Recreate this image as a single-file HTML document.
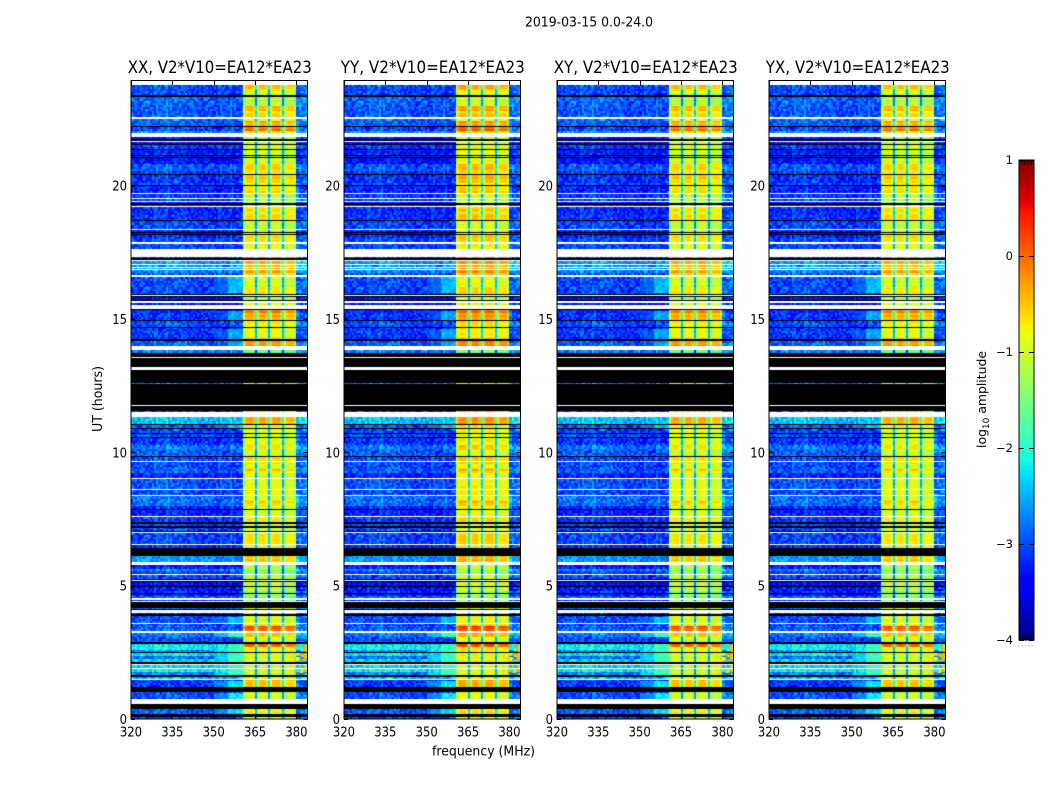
<!DOCTYPE html>
<html lang="en">
<head>
<meta charset="utf-8">
<title>2019-03-15 0.0-24.0</title>
<style>
html,body{margin:0;padding:0;background:#fff;}
#figure{position:relative;width:1050px;height:800px;overflow:hidden;background:#fff;}
canvas{position:absolute;display:block;}
#overlay{position:absolute;left:0;top:0;}
text{font-family:"DejaVu Sans","Liberation Sans",sans-serif;fill:#000;}
</style>
</head>
<body>
<div id="figure">
<svg id="overlay" width="1050" height="800" viewBox="0 0 1050 800" xmlns="http://www.w3.org/2000/svg">
  <text x="589" y="26.5" font-size="13.7" text-anchor="middle" textLength="128" lengthAdjust="spacingAndGlyphs">2019-03-15 0.0-24.0</text>
  <text x="483.5" y="755.5" font-size="13.7" text-anchor="middle" textLength="103" lengthAdjust="spacingAndGlyphs">frequency (MHz)</text>
  <text x="102" y="399" font-size="13.7" text-anchor="middle" textLength="66" lengthAdjust="spacingAndGlyphs" transform="rotate(-90 102 399)">UT (hours)</text>
  <text x="986" y="399.5" font-size="12.4" text-anchor="middle" transform="rotate(-90 986 399.5)">log<tspan font-size="9" dy="3">10</tspan><tspan dy="-3"> amplitude</tspan></text>
</svg>
</div>
<script>
// ---------- chart data ----------
const panelTitles = ["XX, V2*V10=EA12*EA23", "YY, V2*V10=EA12*EA23", "XY, V2*V10=EA12*EA23", "YX, V2*V10=EA12*EA23"];
const panelPassOffset = [0, 0.12, -0.02, -0.03];
const panelBackgroundOffset = [-0.1, -0.12, -0.12, -0.12];
const freqTicks = [320, 335, 350, 365, 380];
const hourTicks = [0, 5, 10, 15, 20];
const colorbarTicks = [1, 0, -1, -2, -3, -4];
const colorbarLabels = ["1", "0", "\u22121", "\u22122", "\u22123", "\u22124"];
const W = null;   // flagged white row
const K = -9;     // flagged black row

// Each band runs from bandTopHour[i] down to bandTopHour[i+1].
const bandTopHour = [
23.93,23.79,23.76,23.59,23.38,23.34,22.99,22.80,22.56,22.50,22.43,22.24,22.20,22.05,21.98,21.81,21.73,21.69,21.66,21.62,
21.56,21.53,21.38,21.32,21.15,21.11,21.08,21.02,20.81,20.55,20.44,20.38,20.10,20.04,19.99,19.73,19.68,19.52,19.48,19.43,
19.39,19.35,19.28,19.24,19.18,19.01,18.98,18.71,18.66,18.38,18.32,18.26,18.21,18.17,18.13,18.04,17.89,17.81,17.64,17.34,
17.27,17.21,17.18,17.06,17.03,16.95,16.91,16.86,16.82,16.74,16.71,16.63,16.59,16.20,15.94,15.90,15.86,15.83,15.71,15.66,
15.60,15.53,15.36,15.32,15.23,14.96,14.91,14.70,14.66,14.29,14.23,14.19,13.99,13.95,13.93,13.84,13.74,13.58,13.52,13.18,
13.14,13.11,13.07,12.60,12.56,11.78,11.74,11.55,11.51,11.33,11.06,11.03,10.91,10.88,10.73,10.69,10.58,10.54,10.29,10.26,
10.09,9.86,9.81,9.66,9.62,9.56,9.41,9.23,9.04,9.00,8.64,8.57,8.40,8.36,8.21,7.99,7.89,7.85,7.63,7.56,
7.39,7.33,7.22,7.18,7.05,7.01,6.96,6.56,6.53,6.43,6.13,5.89,5.79,5.74,5.61,5.55,5.44,5.40,5.25,5.21,
5.18,5.12,4.99,4.95,4.80,4.73,4.69,4.61,4.52,4.48,4.43,4.37,4.18,4.13,4.09,3.98,3.92,3.86,3.60,3.56,
3.49,3.30,3.24,3.08,2.89,2.83,2.70,2.60,2.51,2.48,2.36,2.25,2.14,2.08,2.01,1.93,1.89,1.77,1.65,1.58,
1.50,1.46,1.20,1.01,0.75,0.56,0.38,0.17,0.09,0.06,0];

const bandBackground = [
W,K,-3,-3,K,-2.85,-2.9,-2.9,W,-2.8,-2.9,K,-3,-2.6,W,-3.4,K,-3.2,W,-3.4,
K,-3.1,K,-3.2,K,-3.2,K,-3.3,-2.9,-3,K,-3.1,-3,K,-3.2,W,-3.1,W,-3.1,W,
-3.2,K,-3.2,W,-3.2,-3.2,-3.1,K,-3,W,-3.2,K,-3.3,K,-3.1,-3,W,-3,W,-3.1,
K,W,-2.6,W,-2.6,W,-2.5,W,-2.7,W,-3,W,-3,-3,K,W,K,-3.4,K,W,
-3.3,W,K,-3.2,-3.1,K,-3,K,-3.1,-3.1,K,-2.9,W,K,W,-2.7,K,W,K,W,
K,W,K,-2.8,K,W,K,-3,W,-2.35,K,-2.9,K,-3,K,-3,K,-3.1,W,-2.8,
-2.9,K,-3,W,-3,-3,-2.9,-3.2,W,-2.9,W,-3,W,-2.8,-2.8,-3.2,K,-3.2,W,-3.1,
K,-3,K,-3,K,W,-3,W,-3.1,K,-2.6,W,-3.3,-3.2,-2.7,-3.1,W,-3,K,W,
K,-3.4,K,-3.3,-3.1,K,-3.3,-2.9,W,-3.2,W,K,-2.8,K,W,-3.2,K,-3,W,-3,
-2.9,W,-2.8,-3,K,-2.2,-2.1,-2.7,K,-2.2,-2.8,-2.3,K,W,-2.3,W,-2.1,-2.7,K,-2.4,
W,-3.1,K,-3,W,K,-2.9,K,W,-3];

const bandPassband = [
W,K,-0.45,-0.9,K,-1.05,-0.35,-0.6,W,-0.9,-0.35,K,-0.05,-0.55,W,-1,K,-1,W,-1.1,
K,-0.85,K,-0.9,K,-1,K,-0.9,-0.5,-0.65,K,-0.5,-0.9,K,-0.6,W,-1,W,-1.1,W,
-1.1,K,-1,W,-0.6,-0.9,-0.55,K,-1,W,-1,K,-1,K,-0.5,-0.7,W,-0.8,W,0.1,
K,W,-0.3,W,-0.5,W,-0.4,W,-0.3,W,-0.5,W,-0.9,-0.65,K,W,K,-1,K,W,
-0.7,W,K,-0.05,-0.35,K,-0.7,K,-0.8,-0.25,K,-0.2,W,K,W,-1.5,K,W,K,W,
K,W,K,-1,K,W,K,-0.5,W,-0.25,K,-0.75,K,-0.8,K,-0.9,K,-0.8,W,-0.6,
-1,K,-0.6,W,-0.6,-0.9,-0.55,-0.9,W,-0.8,W,-0.8,W,-0.85,-0.55,-0.9,K,-0.9,W,-0.7,
K,-0.9,K,-0.9,K,W,-0.6,W,-0.7,K,-0.45,W,-1,-1,-1.4,-1.3,W,-1.1,K,W,
K,-1,K,-1.05,-1.4,K,-1.1,-1.5,W,-1.2,W,K,-0.7,K,W,-1.2,K,-0.85,W,-0.6,
0.15,W,-0.4,-1,K,0.1,-0.7,-0.8,K,-0.8,-0.95,-0.8,K,W,-0.95,W,-0.9,-1,K,-0.9,
W,-0.4,K,-0.9,W,K,-0.7,K,W,-1];

// Brighter "shoulder" below the passband (350-360 MHz), by UT range.
const shoulderTopHour =    [16.59, 15.32, 14.66, 11.33, 3.86, 3.30, 2.83, 1.46, 1.01, 0.38];
const shoulderBottomHour = [16.00, 14.96, 14.00, 10.91, 3.60, 3.08, 1.65, 1.20, 0.75, 0.17];
const shoulderLevel =      [-2.45, -2.55, -2.55, -2.4,  -2.4, -2.0, -1.9, -2.2, -2.3, -2.3];

// Passband response relative to the band level, for channels from 360.5 MHz upward.
const passbandFirstFreq = 360.5;
const passbandResponse = [
-0.4,-0.1,0,0,0,-0.2, -1.7,
-0.35,-0.05,0,0,-0.2, -1.7,
-0.35,-0.05,0,0,0,-0.2, -1.7,
-0.5,-0.2,-0.15,-0.15,-0.15,-0.35];

// Background spectrum tilt, one value per 4 MHz from 320 MHz, and the level above 380 MHz.
const backgroundTilt = [0.05,0.1,0.1,0.15,0.1,0.05,0,0,0,0.05];
const upperEdgeTilt = 0.3;

// Hot channels at the top of the band during early UT.
const hotTopHour = 2.89;
const hotBottomHour = 1.6;
const hotFirstFreq = 375;
const hotLevels = [-1.0,-0.8,-1.0,-0.6,-0.9,-0.5,-0.8,-0.4,-0.7,-0.3,-0.5,-0.1];

// Typical cell-to-cell scatter of the noise floor, repeated across the grid.
const speckle = [0.12,-0.2,0.3,-0.05,-0.28,0.18,0.02,-0.15,0.42,-0.3,0.08,-0.1,0.25,-0.22,0.05,-0.34,0.16,0.33,-0.12,-0.02,0.22,-0.26,0.1,-0.18,0.36,-0.08,-0.32,0.2,0,-0.14,0.28];

const channelWidth = 0.75;
const freqMin = 320, freqMax = 384;
const colorMin = -4, colorMax = 1;
const jetRed =   [[0,0],[0.35,0],[0.66,1],[0.89,1],[1,0.5]];
const jetGreen = [[0,0],[0.125,0],[0.375,1],[0.64,1],[0.91,0],[1,0]];
const jetBlue =  [[0,0.5],[0.11,1],[0.34,1],[0.65,0],[1,0]];

// ---------- layout and scales ----------
const panelLefts = [131, 344, 557, 769];
const plotWidth = 176.5;
const plotTop = 81, plotBottom = 719;
const pxPerHour = 26.67;
const SVGNS = "http://www.w3.org/2000/svg";
const figure = document.getElementById("figure");
const overlay = document.getElementById("overlay");

function xScale(f){ return (f - freqMin) / (freqMax - freqMin) * plotWidth; }
function yScale(h){ return plotBottom - h * pxPerHour - plotTop; }

function ramp(anchors, t){
  for (let i = 1; i < anchors.length; i++){
    if (t <= anchors[i][0]){
      const a = anchors[i-1], b = anchors[i];
      return a[1] + (b[1]-a[1]) * (t-a[0]) / (b[0]-a[0]);
    }
  }
  return anchors[anchors.length-1][1];
}
function jet(v){
  const t = Math.max(0, Math.min(1, (v - colorMin) / (colorMax - colorMin)));
  return "rgb(" + Math.round(255*ramp(jetRed,t)) + "," + Math.round(255*ramp(jetGreen,t)) + "," + Math.round(255*ramp(jetBlue,t)) + ")";
}

function cellValue(freq, ch, hour, row, bg, pass, bgOffset, passOffset){
  const s = speckle[(ch*ch*3 + ch*7 + row*row*5 + row*11 + ch*row) % speckle.length];
  let v;
  if (freq >= passbandFirstFreq && freq < passbandFirstFreq + passbandResponse.length*channelWidth){
    const idx = Math.floor((freq - passbandFirstFreq) / channelWidth + 1e-6);
    v = pass + passOffset + passbandResponse[idx] + s*0.08 + speckle[row % speckle.length]*0.3;
  } else if (freq >= passbandFirstFreq){
    v = bg + bgOffset + upperEdgeTilt + s;
  } else {
    const tilt = backgroundTilt[Math.min(backgroundTilt.length-1, Math.floor((freq-freqMin)/4))];
    v = bg + bgOffset + tilt + s;
    if (freq >= 350){
      for (let i = 0; i < shoulderLevel.length; i++){
        if (hour <= shoulderTopHour[i] && hour > shoulderBottomHour[i]){
          const lvl = shoulderLevel[i] + (freq < 355 ? -0.45 : 0) + s*0.5;
          if (lvl > v) v = lvl;
        }
      }
    }
  }
  if (hour <= hotTopHour && hour > hotBottomHour && freq >= hotFirstFreq && s > -0.05){
    const idx = Math.min(hotLevels.length-1, Math.floor((freq-hotFirstFreq)/channelWidth));
    if (hotLevels[idx] > v) v = hotLevels[idx];
  }
  return v;
}

function drawHeatmap(ctx, panel){
  const nChannels = Math.ceil((freqMax-freqMin)/channelWidth);
  const height = plotBottom - plotTop;
  ctx.fillStyle = "#fff";
  ctx.fillRect(0, 0, 177, height);
  for (let b = 0; b < bandTopHour.length-1; b++){
    const yTop = Math.round(yScale(bandTopHour[b]));
    let yBot = Math.round(yScale(bandTopHour[b+1]));
    if (yBot <= yTop) yBot = yTop + 1;
    const bg = bandBackground[b], pass = bandPassband[b];
    if (bg === W){ ctx.fillStyle = "#fff"; ctx.fillRect(0, yTop, 177, yBot-yTop); continue; }
    if (bg === K){ ctx.fillStyle = "#000"; ctx.fillRect(0, yTop, 177, yBot-yTop); continue; }
    let y = yTop;
    while (y < yBot){
      const row = Math.floor(y/2);
      const y2 = Math.min((row+1)*2, yBot);
      const hour = (plotBottom - plotTop - y) / pxPerHour;
      for (let ch = 0; ch < nChannels; ch++){
        const f = freqMin + ch*channelWidth;
        const x1 = Math.round(xScale(f)), x2 = Math.round(xScale(f+channelWidth));
        ctx.fillStyle = jet(cellValue(f, ch, hour, row, bg, pass, panelBackgroundOffset[panel], panelPassOffset[panel]));
        ctx.fillRect(x1, y, x2-x1, y2-y);
      }
      y = y2;
    }
  }
}

function svgLine(x1,y1,x2,y2,parent){
  const l = document.createElementNS(SVGNS,"line");
  l.setAttribute("x1",x1); l.setAttribute("y1",y1);
  l.setAttribute("x2",x2); l.setAttribute("y2",y2);
  l.setAttribute("stroke","#000"); l.setAttribute("stroke-width","1");
  parent.appendChild(l);
  return l;
}
function svgText(x,y,str,anchor,size,parent,length){
  const t = document.createElementNS(SVGNS,"text");
  t.setAttribute("x",x); t.setAttribute("y",y);
  t.setAttribute("text-anchor",anchor); t.setAttribute("font-size",size);
  if (length){
    t.setAttribute("textLength",length);
    t.setAttribute("lengthAdjust","spacingAndGlyphs");
  }
  t.textContent = str;
  parent.appendChild(t);
  return t;
}

// ---------- panels ----------
panelLefts.forEach(function(left, p){
  const cv = document.createElement("canvas");
  cv.width = 177;
  cv.height = plotBottom - plotTop;
  cv.style.left = left + "px";
  cv.style.top = plotTop + "px";
  
  
  figure.insertBefore(cv, overlay);
  drawHeatmap(cv.getContext("2d"), p);

  const g = document.createElementNS(SVGNS,"g");
  
  
  overlay.appendChild(g);

  const frame = document.createElementNS(SVGNS,"rect");
  frame.setAttribute("x", left);
  frame.setAttribute("y", plotTop - 0.5);
  frame.setAttribute("width", plotWidth);
  frame.setAttribute("height", plotBottom - plotTop + 0.5);
  frame.setAttribute("fill", "none");
  frame.setAttribute("stroke", "#000");
  
  
  g.appendChild(frame);

  const title = svgText(left + plotWidth/2 + 0.5, 73, panelTitles[p], "middle", 16.4, g, 184);
  
  

  freqTicks.forEach(function(f){
    const x = Math.round(left + xScale(f)) + 0.5;
    svgLine(x, plotBottom, x, plotBottom-4, g);
    svgLine(x, plotTop, x, plotTop+4, g);
    const lab = svgText(left + xScale(f), 736.5, String(f), "middle", 13.7, g, String(f).length*7.4);
    
    
  });
  hourTicks.forEach(function(h){
    const y = Math.round(plotTop + yScale(h)) + 0.5;
    svgLine(left, y, left+4, y, g);
    svgLine(left+plotWidth, y, left+plotWidth-4, y, g);
    const lab = svgText(left-4, plotTop + yScale(h) + 5, String(h), "end", 13.7, g, String(h).length*7.4);
    
    
  });
});

// ---------- colorbar ----------
const cbLeft = 1019, cbWidth = 15, cbTop = 160, cbBottom = 640;
function cbY(v){ return cbBottom - (v-colorMin)/(colorMax-colorMin)*(cbBottom-cbTop); }
const cb = document.createElement("canvas");
cb.width = cbWidth;
cb.height = cbBottom - cbTop;
cb.style.left = cbLeft + "px";
cb.style.top = cbTop + "px";


figure.insertBefore(cb, overlay);
const cbCtx = cb.getContext("2d");
for (let y = 0; y < cb.height; y++){
  cbCtx.fillStyle = jet(colorMax - (y+0.5)/cb.height*(colorMax-colorMin));
  cbCtx.fillRect(0, y, cbWidth, 1);
}
const cbGroup = document.createElementNS(SVGNS,"g");


overlay.appendChild(cbGroup);
const cbFrame = document.createElementNS(SVGNS,"rect");
cbFrame.setAttribute("x", cbLeft);
cbFrame.setAttribute("y", cbTop);
cbFrame.setAttribute("width", cbWidth);
cbFrame.setAttribute("height", cbBottom-cbTop);
cbFrame.setAttribute("fill", "none");
cbFrame.setAttribute("stroke", "#000");


cbGroup.appendChild(cbFrame);
colorbarTicks.forEach(function(v, i){
  const y = Math.round(cbY(v)) + 0.5;
  svgLine(cbLeft, y, cbLeft+5, y, cbGroup);
  svgLine(cbLeft+cbWidth, y, cbLeft+cbWidth-5, y, cbGroup);
  const lab = svgText(cbLeft-6, cbY(v)+4, colorbarLabels[i], "end", 11.5, cbGroup);
  
  
});
for (let i = 1; i < 5; i++){
  const x = cbLeft + i*cbWidth/5;
  svgLine(x, cbTop, x, cbTop+5, cbGroup);
  svgLine(x, cbBottom, x, cbBottom-5, cbGroup);
}
const cbDots = svgLine(cbLeft-1, 646, cbLeft+cbWidth+1, 646, cbGroup);
cbDots.setAttribute("stroke", "#888");
cbDots.setAttribute("stroke-dasharray", "1 2.4");


</script>
</body>
</html>
